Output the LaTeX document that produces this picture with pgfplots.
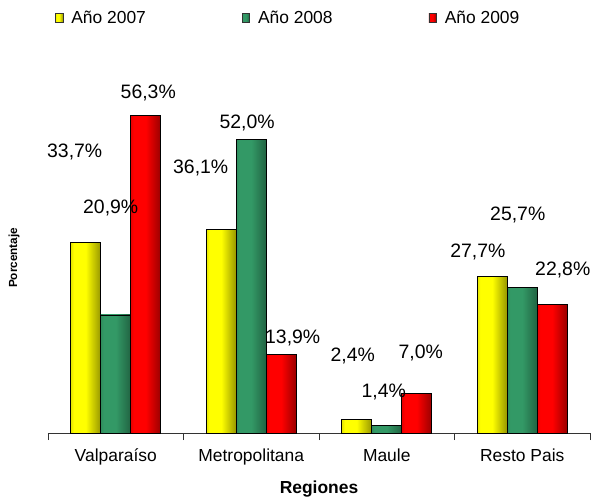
\documentclass[border=0pt]{standalone}
\usepackage{pgfplots}
\pgfplotsset{compat=1.18}
\usepackage{fontspec}
\setmainfont{Liberation Sans}
\definecolor{cY}{HTML}{FFFF00}
\definecolor{cG}{HTML}{339966}
\definecolor{cR}{HTML}{FF0000}
\pgfdeclarehorizontalshading{yshade}{100bp}{color(0bp)=(cY!35!black); color(30bp)=(cY); color(50bp)=(cY); color(100bp)=(cY!18!black)}
\pgfdeclarehorizontalshading{gshade}{100bp}{color(0bp)=(cG!50!black); color(30bp)=(cG); color(50bp)=(cG); color(100bp)=(cG!30!black)}
\pgfdeclarehorizontalshading{rshade}{100bp}{color(0bp)=(cR!40!black); color(30bp)=(cR); color(50bp)=(cR); color(100bp)=(cR!20!black)}
\newcommand\lab{\fontsize{17.5}{20}\selectfont}
\newcommand\dat{\fontsize{19.5}{22}\selectfont}
\pgfplotsset{
  barY/.style={ybar, bar width=30bp, bar shift=-30bp, draw=black, line width=0.8bp, shade, shading=yshade,
    legend image code/.code={\draw[draw=black!80, fill=cY, line width=0.6bp] (0bp,-4.5bp) rectangle (7.5bp,4.5bp);}},
  barG/.style={ybar, bar width=30bp, bar shift=0bp, draw=black, line width=0.8bp, shade, shading=gshade,
    legend image code/.code={\draw[draw=black!80, fill=cG, line width=0.6bp] (0bp,-4.5bp) rectangle (7.5bp,4.5bp);}},
  barR/.style={ybar, bar width=30bp, bar shift=30bp, draw=black, line width=0.8bp, shade, shading=rshade,
    legend image code/.code={\draw[draw=black!80, fill=cR, line width=0.6bp] (0bp,-4.5bp) rectangle (7.5bp,4.5bp);}},
}
\begin{document}
\begin{tikzpicture}
\path[use as bounding box] (-48bp,-64bp) rectangle (544bp,433bp);
\begin{axis}[
  scale only axis, width=542bp, height=367bp,
  xmin=-0.5, xmax=3.5, ymin=0, ymax=65,
  axis x line*=bottom, axis y line*=left,
  y axis line style={draw=none}, ytick=\empty,
  x axis line style={draw=black!80, line width=0.8bp},
  xtick={0,1,2,3},
  xticklabels={Valparaíso,Metropolitana,Maule,Resto Pais},
  major tick length=0pt,
  xticklabel style={font=\lab, yshift=-12.5bp},
  extra x ticks={-0.5,0.5,1.5,2.5,3.5},
  extra x tick labels={},
  extra x tick style={major tick length=7bp, tick align=outside, tick style={draw=black!80, line width=0.8bp}},
  xlabel={\bfseries Regiones},
  xlabel style={font=\lab, at={(axis description cs:0.5,0)}, anchor=center, yshift=-56bp},
  ylabel={\bfseries Porcentaje},
  ylabel style={font=\fontsize{11.8}{13}\selectfont, at={(axis description cs:-0.0627,0.477)}, anchor=center},
  clip=false,
  legend columns=3,
  legend style={draw=none, fill=none, font=\lab, at={(axis description cs:0,1)}, anchor=west, yshift=48bp, xshift=4bp,
    /tikz/every odd column/.append style={column sep=6bp},
    /tikz/every even column/.append style={column sep=94bp}},
]
\addplot[barY] coordinates {(0,33.7)};
\addplot[barG] coordinates {(0,20.9)};
\addplot[barR] coordinates {(0,56.3)};
\addplot[barY, forget plot] coordinates {(1,36.1)};
\addplot[barG, forget plot] coordinates {(1,52.0)};
\addplot[barR, forget plot] coordinates {(1,13.9)};
\addplot[barY, forget plot] coordinates {(2,2.4)};
\addplot[barG, forget plot] coordinates {(2,1.4)};
\addplot[barR, forget plot] coordinates {(2,7.0)};
\addplot[barY, forget plot] coordinates {(3,27.7)};
\addplot[barG, forget plot] coordinates {(3,25.7)};
\addplot[barR, forget plot] coordinates {(3,22.8)};
\legend{Año 2007,Año 2008,Año 2009}
\node[font=\dat] at (axis cs:-0.303,49.7) {33,7\%};
\node[font=\dat] at (axis cs:-0.037,39.8) {20,9\%};
\node[font=\dat] at (axis cs:0.24,60.2) {56,3\%};
\node[font=\dat] at (axis cs:0.627,46.9) {36,1\%};
\node[font=\dat] at (axis cs:0.97,55.0) {52,0\%};
\node[font=\dat] at (axis cs:1.306,16.8) {13,9\%};
\node[font=\dat] at (axis cs:1.749,13.6) {2,4\%};
\node[font=\dat] at (axis cs:1.978,7.3) {1,4\%};
\node[font=\dat] at (axis cs:2.251,14.2) {7,0\%};
\node[font=\dat] at (axis cs:2.672,32.0) {27,7\%};
\node[font=\dat] at (axis cs:2.967,38.6) {25,7\%};
\node[font=\dat] at (axis cs:3.299,28.8) {22,8\%};
\end{axis}
\end{tikzpicture}
\end{document}
